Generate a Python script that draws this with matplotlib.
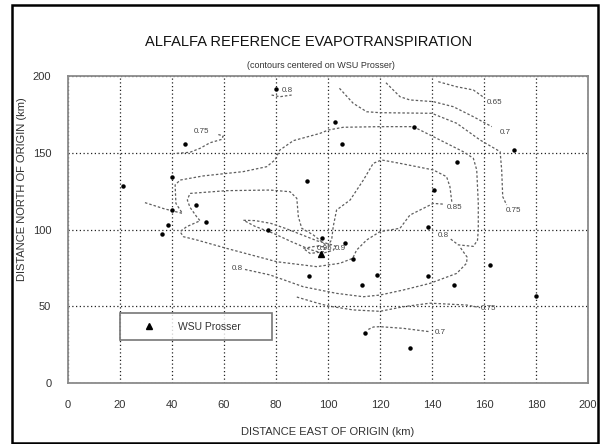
import matplotlib
import numpy as np

matplotlib.use("Agg")
import matplotlib.pyplot as plt
from matplotlib.patches import Rectangle

plt.rcParams.update({"font.family": ["Liberation Sans", "DejaVu Sans"], "font.size": 8})

# ---- data (km east / km north of origin) ----
stn_x = [80, 45, 21.3, 39.9, 91.8, 49.1, 40, 53, 38.5, 36.3, 76.9, 102.8, 105.3, 133.1, 171.5,
         149.5, 140.9, 138.6, 97.8, 106.4, 109.6, 92.8, 119, 113, 138.6, 148.6, 162.2, 179.9,
         114.3, 131.7]
stn_y = [191.5, 156, 128.3, 134, 131.6, 115.8, 112.5, 104.9, 102.7, 97.3, 99.4, 170.2, 155.9,
         167, 151.6, 143.7, 125.9, 101.4, 94.7, 91.5, 80.6, 69.9, 70.5, 64, 69.5, 64, 77, 56.9,
         32.6, 22.6]
prosser_x = [97.3]
prosser_y = [84]

# hand-traced iso-lines of ETr ratio
c065 = [(142.4, 196.3), (149.5, 193), (155.9, 190.9), (160.4, 185.5)]
c070_top = [(122.3, 195.6), (127.7, 186.5), (131.5, 184.4), (140.5, 183.3), (148.2, 180),
            (155.9, 173.5), (163, 167)]
c075_right = [(104.4, 192), (109.7, 182.2), (114.9, 176.7), (120, 176.1), (139.9, 175.7),
              (149.5, 169.2), (158.5, 158.3), (166.2, 150.7), (166.8, 138.8), (167.2, 121.4),
              (168.7, 116)]
c075_left = [(41.8, 149.6), (46.9, 150.3), (50.8, 152.9), (54.6, 156.5), (59.1, 158.7),
             (59.7, 160.9), (57.2, 162.2)]
c080_top = [(78.3, 187.6), (81.5, 186.5), (86, 187.6)]
c080_big = [(29.6, 117.5), (37, 113.5), (44, 110.5), (41.5, 117), (41.2, 129), (43.1, 132.2),
            (52, 134.9), (67.4, 137.7), (76.4, 140.9), (79.6, 145.3), (81.5, 151.8),
            (86.7, 157.9), (96.9, 162.6), (100.1, 164.8), (105.9, 166.6), (120, 167),
            (132.8, 167), (140.5, 160.5), (152, 150.7), (155.9, 146.4), (157.2, 138.8),
            (157.8, 117.1), (157.8, 99.7), (157.5, 93), (155.9, 89), (150.1, 90), (147, 94)]
c080_low = [(151, 88), (153.5, 82), (153.3, 78), (149.5, 71.4), (139.2, 64.9), (129, 60.6),
            (120, 57.3), (113.6, 56.2), (103.3, 58.4), (90.5, 62.7), (77.7, 70.4), (68, 74)]
c085 = [(99, 90), (94.4, 96.4), (89.9, 100.8), (88.6, 108.3), (88, 120.3), (85.4, 124.6),
        (77.7, 125.7), (61, 125.3), (46.9, 123.5), (45.9, 119.2), (46.9, 114.5), (49.5, 108.3),
        (50.8, 105.7), (45.6, 101.8), (43.1, 98.6), (44.4, 95.3), (49.5, 93.2), (61, 87.7),
        (80.3, 79), (95.6, 75.8), (104.6, 78), (109.5, 81.2), (111, 86.6), (114.9, 93.2),
        (120, 98.6), (127.7, 100.8), (131.5, 109.4), (140.5, 117), (144.5, 116.5)]
c085b = [(147.6, 118.1), (146.9, 127.9), (145.6, 134.4), (140.5, 138.8), (127.7, 143.1),
         (120.6, 145.3), (117.4, 143.1), (113.6, 132.2), (108.5, 119.2), (103.3, 112.7),
         (102, 101.8), (101.4, 93.2), (100, 90)]
c090 = [(67.5, 106), (72, 105.8), (78, 104), (84, 100.5), (90, 96.5), (96, 92.5), (101, 90.3),
        (103, 89), (102, 86.5), (98, 84.5), (93, 87), (86, 92), (79, 97.5), (72, 102),
        (67.5, 106)]
c095 = [(90.5, 87.7), (95.6, 89.2), (99, 88.6), (98.2, 85.5), (93.1, 84.4), (90.5, 87.7)]
c075_low = [(88, 56), (95, 52.5), (100, 50.2), (109.7, 47.6), (120, 46.7), (129, 49.7),
            (139.2, 52), (153.3, 50.8), (158.5, 49.1)]
c070_low = [(115.5, 34.9), (117.5, 36.5), (120, 36.7), (129, 35.6), (139.2, 33.4)]

lines = [c065, c070_top, c075_right, c075_left, c080_top, c080_big, c080_low, c085, c085b,
         c090, c095, c075_low, c070_low]

lab_txt = ["0.65", "0.7", "0.75", "0.75", "0.8", "0.8", "0.8", "0.85", "0.95", "0.9", "0.75", "0.7"]
lab_x = [164, 168, 171.5, 51.5, 84.5, 144.5, 65.3, 148.5, 98.5, 104.8, 161.8, 143.2]
lab_y = [182.8, 163.5, 112.5, 163.6, 190.6, 95.8, 74.7, 114.2, 87.3, 87.3, 48.6, 32.8]

fig = plt.figure(figsize=(6.02, 4.44), dpi=100)
ax = fig.add_axes([68 / 602, 1 - 383 / 444, 520 / 602, 307 / 444])

ax.set_xlim(0, 200)
ax.set_ylim(0, 200)
ax.set_xticks(np.arange(0, 201, 20))
ax.set_yticks(np.arange(0, 201, 50))
ax.tick_params(length=0, pad=12, labelsize=8, labelcolor="#333333")
ax.grid(True, color="#222222", lw=0.9, ls=(0, (1, 2)))
ax.set_axisbelow(True)
for s in ax.spines.values():
    s.set_color("#8a8a8a")
    s.set_linewidth(1.3)

for ln in lines:
    xs, ys = zip(*ln)
    ax.plot(xs, ys, color="#5e5e5e", lw=0.9, ls=(0, (2, 1.6)), zorder=2)

for t, x, y in zip(lab_txt, lab_x, lab_y):
    ax.text(x, y, t, fontsize=5.8, color="#444444", ha="center", va="center", zorder=3)

ax.plot(stn_x, stn_y, "o", color="black", ms=2.2, zorder=4)
ax.plot(prosser_x, prosser_y, "^", color="black", ms=5, zorder=5, label="WSU Prosser")

leg = ax.legend(loc="lower left", bbox_to_anchor=(0.1, 0.14, 0.293, 0.09), mode="expand",
                borderaxespad=0, fancybox=False, fontsize=7.5, handlelength=4,
                handletextpad=0.8, borderpad=0.8, numpoints=1, markerscale=0.75)
leg.get_frame().set_edgecolor("#555555")
leg.get_frame().set_linewidth(1.2)
for t in leg.get_texts():
    t.set_color("#333333")

fig.text(309 / 602, 1 - 42 / 444, "ALFALFA REFERENCE EVAPOTRANSPIRATION", ha="center",
         va="center", fontsize=10.5, color="#111111")
fig.text(321 / 602, 1 - 66 / 444, "(contours centered on WSU Prosser)", ha="center",
         va="center", fontsize=6.5, color="#333333")
fig.text(328 / 602, 1 - 432 / 444, "DISTANCE EAST OF ORIGIN (km)", ha="center", va="center",
         fontsize=8, color="#333333")
fig.text(22 / 602, 1 - 189 / 444, "DISTANCE NORTH OF ORIGIN (km)", ha="center", va="center",
         rotation=90, fontsize=8, color="#333333")

fig.patches.append(Rectangle((12 / 602, 1 / 444), 586 / 602, 438 / 444, transform=fig.transFigure,
                             fill=False, ec="black", lw=1.8))

fig.savefig("out.png", dpi=100)
